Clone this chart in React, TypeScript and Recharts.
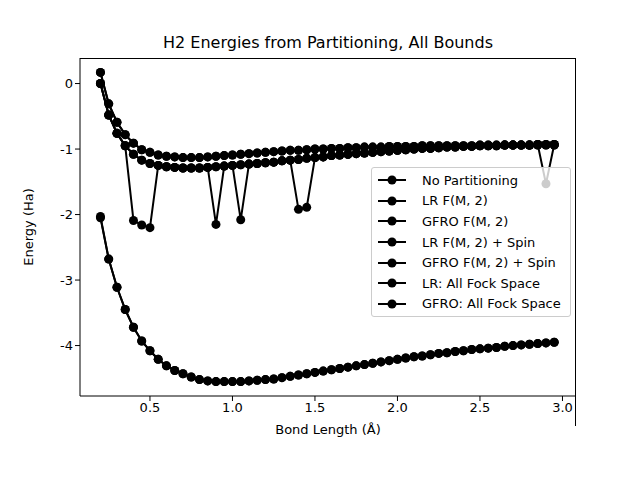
import { LineChart, Line, XAxis, YAxis, Label } from 'recharts'

const bondLengths = Array.from({ length: 56 }, (_, i) => Number((0.2 + i * 0.05).toFixed(2)))

const upper = [
  0.17, -0.31, -0.59, -0.78, -0.91, -1.01, -1.05, -1.09, -1.11, -1.12, -1.13, -1.13, -1.13, -1.12, -1.11, -1.1,
  -1.09, -1.08, -1.07, -1.06, -1.05, -1.04, -1.03, -1.02, -1.02, -1.01, -1.0, -1.0, -0.99, -0.99, -0.98, -0.98,
  -0.97, -0.97, -0.97, -0.96, -0.96,
  -0.96, -0.96, -0.95, -0.95, -0.95, -0.95, -0.95, -0.95, -0.95, -0.94, -0.94, -0.94, -0.94, -0.94, -0.94, -0.94,
  -0.94, -0.94, -0.94,
]
const lower = [
  0.0, -0.48, -0.76, -0.95, -1.08, -1.17, -1.22, -1.25, -1.27, -1.28, -1.29, -1.29, -1.29, -1.28, -1.27, -1.26,
  -1.25, -1.24, -1.23, -1.22, -1.21, -1.2, -1.18, -1.17, -1.16, -1.14, -1.13, -1.12, -1.1, -1.09, -1.08, -1.07,
  -1.06, -1.05, -1.04, -1.03, -1.02,
  -1.01, -1.0, -0.99, -0.99, -0.98, -0.97, -0.97, -0.96, -0.96, -0.95, -0.95, -0.95, -0.94, -0.94, -0.94, -0.94,
  -0.93, -0.93, -0.93,
]
const lrDips = [
  0.0, -0.48, -0.76, -0.95, -2.09, -2.16, -2.2, -1.25, -1.27, -1.28, -1.29, -1.29, -1.29, -1.28, -2.15, -1.26,
  -1.25, -2.08, -1.23, -1.22, -1.21, -1.2, -1.18, -1.17, -1.92, -1.89, -1.13, -1.12, -1.1, -1.09, -1.08, -1.07,
  -1.06, -1.05, -1.04, -1.03, -1.02,
  -1.01, -1.0, -0.99, -0.99, -0.98, -0.97, -0.97, -0.96, -0.96, -0.95, -0.95, -0.95, -0.94, -0.94, -0.94, -0.94,
  -0.93, -1.53, -0.93,
]
const fockLR = [
  -2.05, -2.68, -3.11, -3.45, -3.72, -3.93, -4.08, -4.21, -4.31, -4.38, -4.43, -4.48, -4.52, -4.54, -4.55, -4.55,
  -4.55, -4.55, -4.54, -4.53, -4.52, -4.51, -4.49, -4.47, -4.45, -4.43, -4.41, -4.39, -4.37, -4.35, -4.33, -4.31,
  -4.29, -4.27, -4.25, -4.23, -4.21,
  -4.19, -4.17, -4.16, -4.14, -4.12, -4.11, -4.09, -4.08, -4.06, -4.05, -4.04, -4.03, -4.01, -4.0, -3.99, -3.98,
  -3.97, -3.96, -3.95,
]
const fockGFRO = fockLR.map((v, i) => (i === 0 ? -2.03 : v))

const seriesNames = [
  'No Partitioning',
  'LR F(M, 2)',
  'GFRO F(M, 2)',
  'LR F(M, 2) + Spin',
  'GFRO F(M, 2) + Spin',
  'LR: All Fock Space',
  'GFRO: All Fock Space',
]
const seriesValues = [upper, lrDips, lower, lower, upper, fockLR, fockGFRO]

const data = bondLengths.map((x, i) => {
  const row: Record<string, number> = { x }
  seriesValues.forEach((vals, s) => (row[`s${s}`] = vals[i]))
  return row
})

const font = 'DejaVu Sans, sans-serif'

function LegendBox() {
  return (
    <div
      style={{
        position: 'absolute',
        left: 371,
        top: 167,
        width: 186,
        background: 'rgba(255,255,255,0.8)',
        border: '1px solid #ccc',
        borderRadius: 3,
        padding: '2px 6px',
        fontFamily: font,
        fontSize: 13,
      }}
    >
      {seriesNames.map((n) => (
        <div key={n} style={{ display: 'flex', alignItems: 'center', height: 20.6 }}>
          <svg width={28} height={12} style={{ marginRight: 16 }}>
            <line x1={0} y1={6} x2={28} y2={6} stroke="#000" strokeWidth={2} />
            <circle cx={14} cy={6} r={4.5} fill="#000" />
          </svg>
          {n}
        </div>
      ))}
    </div>
  )
}

export default function App() {
  return (
    <div style={{ margin: -8, width: 640, height: 480, background: '#fff', position: 'relative' }}>
      <div
        style={{
          position: 'absolute',
          top: 33,
          left: 0,
          width: 656,
          textAlign: 'center',
          fontFamily: font,
          fontSize: 16,
        }}
      >
        H2 Energies from Partitioning, All Bounds
      </div>
      <LineChart width={640} height={480} data={data} margin={{ top: 58, right: 64, bottom: 54, left: 0 }}>
        <XAxis
          dataKey="x"
          type="number"
          domain={[0.076, 3.082]}
          ticks={[0.5, 1.0, 1.5, 2.0, 2.5, 3.0]}
          tickFormatter={(v: number) => v.toFixed(1)}
          allowDataOverflow
          tick={{ fontSize: 13, fill: '#000', fontFamily: font }}
          stroke="#000"
          tickSize={5}
        >
          <Label value="Bond Length (Å)" position="insideBottom" offset={-8} style={{ fontSize: 13, fill: '#000', fontFamily: font }} />
        </XAxis>
        <YAxis
          type="number"
          width={80}
          domain={[-4.77, 0.39]}
          ticks={[0, -1, -2, -3, -4]}
          allowDataOverflow
          tick={{ fontSize: 13, fill: '#000', fontFamily: font }}
          stroke="#000"
          tickSize={5}
        >
          <Label value="Energy (Ha)" angle={-90} position="insideLeft" offset={28} style={{ fontSize: 13, fill: '#000', fontFamily: font, textAnchor: 'middle' }} />
        </YAxis>
        {seriesNames.map((n, s) => (
          <Line
            key={n}
            dataKey={`s${s}`}
            name={n}
            type="linear"
            stroke="#000"
            strokeWidth={2}
            dot={{ r: 4.5, fill: '#000', stroke: '#000', strokeWidth: 0 }}
            isAnimationActive={false}
          />
        ))}
      </LineChart>
      <div
        style={{
          position: 'absolute',
          left: 80,
          top: 58,
          width: 496,
          height: 368,
          borderTop: '1px solid #000',
          borderRight: '1px solid #000',
          boxSizing: 'border-box',
          pointerEvents: 'none',
        }}
      />
      <LegendBox />
    </div>
  )
}
